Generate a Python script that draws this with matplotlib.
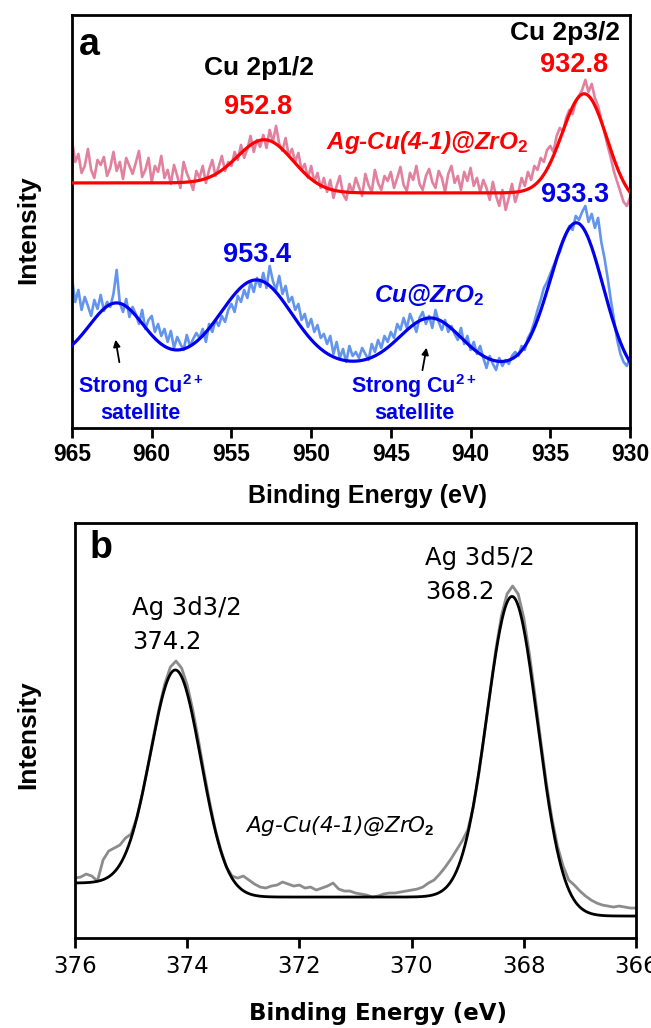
import math
import numpy as np
import matplotlib
matplotlib.use("Agg")
import matplotlib.pyplot as plt

# ---------------- Cu 2p spectra (panel a) ----------------
cu_energy = np.linspace(965.0, 930.0, 176)   # binding energy, 0.2 eV step

agcu_cu2p = [
    288, 266, 274, 255, 262, 279, 258, 250, 268, 263,   # 965.0 -> 963.2
    271, 252, 260, 276, 257, 266, 249, 270, 262, 254,   # 963.0 -> 961.2
    265, 277, 251, 258, 270, 246, 262, 256, 272, 250,   # 961.0 -> 959.2
    258, 244, 263, 252, 240, 266, 255, 247, 238, 257,   # 959.0 -> 957.2
    250, 262, 245, 258, 268, 252, 261, 272, 257, 266,   # 957.0 -> 955.2
    262, 276, 268, 283, 270, 279, 292, 276, 288, 281,   # 955.0 -> 953.2
    293, 280, 298, 286, 302, 284, 277, 290, 272, 279,   # 953.0 -> 951.2
    266, 275, 258, 264, 250, 262, 246, 255, 240, 250,   # 951.0 -> 949.2
    236, 248, 230, 242, 252, 234, 228, 244, 236, 250,   # 949.0 -> 947.2
    241, 232, 254, 243, 236, 258, 245, 238, 252, 247,   # 947.0 -> 945.2
    256, 240, 250, 261, 243, 237, 255, 248, 262, 244,   # 945.0 -> 943.2
    238, 252, 259, 246, 240, 257, 250, 236, 254, 262,   # 943.0 -> 941.2
    245, 252, 238, 256, 247, 260, 242, 250, 236, 248,   # 941.0 -> 939.2
    240, 228, 246, 232, 222, 238, 218, 230, 244, 226,   # 939.0 -> 937.2
    236, 250, 242, 256, 248, 262, 258, 270, 266, 278,   # 937.0 -> 935.2
    282, 276, 292, 300, 296, 310, 318, 314, 326, 332,   # 935.0 -> 933.2
    338, 348, 336, 344, 330, 322, 308, 296, 282, 270,   # 933.0 -> 931.2
    256, 246, 236, 226, 222, 230,                       # 931.0 -> 930.0
]

cu_cu2p = [
    150, 126, 138, 118, 131, 122, 112, 128, 119, 133,   # 965.0 -> 963.2
    117, 126, 121, 134, 158, 125, 116, 129, 111, 121,   # 963.0 -> 961.2
    114, 104, 118, 99, 108, 112, 96, 104, 92, 99,       # 961.0 -> 959.2
    86, 97, 80, 91, 84, 78, 93, 82, 89, 95,             # 959.0 -> 957.2
    90, 99, 86, 104, 96, 108, 102, 112, 106, 118,       # 957.0 -> 955.2
    124, 116, 132, 126, 138, 130, 146, 136, 150, 141,   # 955.0 -> 953.2
    155, 140, 162, 147, 138, 152, 134, 142, 126, 131,   # 953.0 -> 951.2
    118, 124, 108, 114, 101, 109, 96, 103, 90, 94,      # 951.0 -> 949.2
    84, 92, 74, 86, 70, 79, 66, 82, 72, 76,             # 949.0 -> 947.2
    70, 80, 74, 68, 84, 76, 88, 80, 92, 86,             # 947.0 -> 945.2
    96, 90, 104, 98, 110, 100, 114, 106, 96, 110,       # 945.0 -> 943.2
    116, 104, 112, 100, 118, 106, 98, 108, 96, 102,     # 943.0 -> 941.2
    94, 88, 100, 84, 92, 78, 86, 74, 82, 70,            # 941.0 -> 939.2
    60, 72, 64, 58, 70, 62, 68, 64, 72, 76,             # 939.0 -> 937.2
    72, 82, 78, 90, 96, 106, 118, 128, 140, 146,        # 937.0 -> 935.2
    154, 162, 170, 176, 186, 194, 202, 198, 212, 208,   # 935.0 -> 933.2
    216, 222, 206, 214, 200, 210, 186, 170, 150, 128,   # 933.0 -> 931.2
    108, 88, 74, 66, 62, 70,                            # 931.0 -> 930.0
]

# fitted components: centre (eV), height, sigma (eV), Shirley-type step
agcu_center = [952.8, 932.8]
agcu_height = [48, 106]
agcu_sigma = [1.75, 1.4]
agcu_step = [10, 14]
agcu_base = 221

cu_center = [962.2, 953.4, 942.5, 933.3]
cu_height = [57.5, 83, 48, 152]
cu_sigma = [1.7, 2.2, 1.9, 1.65]
cu_step = [1, 4, 2, 16]
cu_base = 45

# ---------------- Ag 3d spectrum (panel b) ----------------
ag_energy = np.linspace(376.0, 366.0, 101)   # 0.1 eV step

agcu_ag3d = [
    60, 61, 64, 62, 57, 78, 87, 90, 93, 100,            # 376.0 -> 375.1
    104, 120, 144, 172, 202, 230, 254, 271, 277, 270,   # 375.0 -> 374.1
    253, 228, 198, 166, 136, 109, 88, 71, 62, 60,       # 374.0 -> 373.1
    62, 58, 54, 51, 50, 52, 53, 56, 54, 52,             # 373.0 -> 372.1
    53, 50, 51, 48, 50, 52, 55, 49, 47, 47,             # 372.0 -> 371.1
    45, 44, 43, 41, 42, 44, 45, 45, 46, 47,             # 371.0 -> 370.1
    48, 49, 51, 55, 58, 64, 71, 79, 88, 97,             # 370.0 -> 369.1
    108, 131, 165, 205, 247, 288, 322, 344, 352, 344,   # 369.0 -> 368.1
    320, 284, 242, 198, 156, 120, 92, 72, 58, 53,       # 368.0 -> 367.1
    47, 42, 38, 35, 33, 32, 31, 32, 31, 30,             # 367.0 -> 366.1
    30,                                                 # 366.0
]

ag_center = [374.2, 368.2]
ag_height = [220, 310]
ag_sigma = [0.45, 0.45]
ag_step = [14, 19]
ag_base = 22

_erf = np.vectorize(math.erf)


def envelope(e, base, centers, heights, sigmas, steps):
    """Sum of Gaussian components on a step (Shirley-like) background."""
    e = np.asarray(e, dtype=float)
    y = np.full_like(e, float(base))
    for c, h, s, st in zip(centers, heights, sigmas, steps):
        z = (e - c) / s
        y += h * np.exp(-0.5 * z ** 2) + st * 0.5 * (1.0 + _erf(z / math.sqrt(2.0)))
    return y


plt.rcParams["font.family"] = ["Liberation Sans", "DejaVu Sans"]
plt.rcParams["mathtext.fontset"] = "custom"
plt.rcParams["mathtext.rm"] = "Liberation Sans:bold"
plt.rcParams["mathtext.it"] = "Liberation Sans:bold:italic"
plt.rcParams["mathtext.bf"] = "Liberation Sans:bold"

fig = plt.figure(figsize=(6.51, 10.28), dpi=100)
ax_a = fig.add_axes([0.1106, 0.5837, 0.8571, 0.4018])
ax_b = fig.add_axes([0.1152, 0.0875, 0.8618, 0.4037])

PINK = "#E2819F"
LIGHTBLUE = "#6495ED"
RED = "#FF0000"
BLUE = "#0000EE"

# ---- panel a ----
fine_a = np.linspace(965.0, 930.0, 701)
ax_a.plot(cu_energy, agcu_cu2p, color=PINK, lw=1.9, zorder=2)
ax_a.plot(cu_energy, cu_cu2p, color=LIGHTBLUE, lw=1.9, zorder=2)
ax_a.plot(fine_a, envelope(fine_a, agcu_base, agcu_center, agcu_height, agcu_sigma, agcu_step),
          color=RED, lw=2.3, zorder=3)
ax_a.plot(fine_a, envelope(fine_a, cu_base, cu_center, cu_height, cu_sigma, cu_step),
          color=BLUE, lw=2.3, zorder=3)

ax_a.set_xlim(965, 930)
ax_a.set_ylim(0, 413)
ax_a.set_xticks(np.arange(965, 929, -5))
ax_a.set_yticks([])
for lab in ax_a.get_xticklabels():
    lab.set_fontweight("bold")
ax_a.tick_params(axis="x", direction="out", length=7, width=2, labelsize=16.5, pad=4)
for sp in ax_a.spines.values():
    sp.set_linewidth(2)
ax_a.set_xlabel("Binding Energy (eV)", fontsize=18, fontweight="bold")
ax_a.xaxis.set_label_coords(0.53, -0.135)
ax_a.set_ylabel("Intensity", fontsize=19, fontweight="bold")
ax_a.yaxis.set_label_coords(-0.057, 0.48)

ax_a.text(964.6, 383, "a", fontsize=27, fontweight="bold", ha="left", va="center")
ax_a.text(953.3, 360, "Cu 2p1/2", fontsize=19, fontweight="bold", ha="center", va="center")
ax_a.text(953.3, 321, "952.8", fontsize=19.5, fontweight="bold", color=RED, ha="center", va="center")
ax_a.text(934.1, 395, "Cu 2p3/2", fontsize=19, fontweight="bold", ha="center", va="center")
ax_a.text(933.5, 363, "932.8", fontsize=19.5, fontweight="bold", color=RED, ha="center", va="center")
ax_a.text(942.7, 285, r"Ag-Cu(4-1)@ZrO$_{\mathit{2}}$", fontsize=17.5, fontweight="bold",
          style="italic", color=RED, ha="center", va="center")
ax_a.text(933.45, 233, "933.3", fontsize=19.5, fontweight="bold", color=BLUE, ha="center", va="center")
ax_a.text(953.4, 173, "953.4", fontsize=19.5, fontweight="bold", color=BLUE, ha="center", va="center")
ax_a.text(942.6, 133, r"Cu@ZrO$_{\mathit{2}}$", fontsize=17.5, fontweight="bold",
          style="italic", color=BLUE, ha="center", va="center")
for xe in (960.7, 943.55):
    ax_a.text(xe, 30, "Strong Cu$^{2+}$\nsatellite", fontsize=15.5, fontweight="bold",
              color=BLUE, ha="center", va="center", linespacing=1.2)
ax_a.annotate("", xy=(962.3, 91), xytext=(962.0, 63),
              arrowprops=dict(arrowstyle="-|>", color="black", lw=1.3, mutation_scale=10))
ax_a.annotate("", xy=(942.73, 83), xytext=(943.05, 55),
              arrowprops=dict(arrowstyle="-|>", color="black", lw=1.3, mutation_scale=10))

# ---- panel b ----
fine_b = np.linspace(376.0, 366.0, 801)
ax_b.plot(ag_energy, agcu_ag3d, color="#8C8C8C", lw=2.0, zorder=2)
ax_b.plot(fine_b, envelope(fine_b, ag_base, ag_center, ag_height, ag_sigma, ag_step),
          color="black", lw=2.0, zorder=3)
ax_b.set_xlim(376, 366)
ax_b.set_ylim(0, 415)
ax_b.set_xticks(np.arange(376, 365, -2))
ax_b.set_yticks([])
for lab in ax_b.get_xticklabels():
    lab.set_family(["DejaVu Sans"])
ax_b.tick_params(axis="x", direction="out", length=7, width=2, labelsize=16.5, pad=5)
for sp in ax_b.spines.values():
    sp.set_linewidth(2)
ax_b.set_xlabel("Binding Energy (eV)", fontsize=16.5, fontweight="bold", family=["DejaVu Sans"])
ax_b.xaxis.set_label_coords(0.54, -0.155)
ax_b.set_ylabel("Intensity", fontsize=19, fontweight="bold")
ax_b.yaxis.set_label_coords(-0.062, 0.49)

ax_b.text(375.75, 390, "b", fontsize=27, fontweight="bold", ha="left", va="center")
ax_b.text(374.98, 330, "Ag 3d3/2", fontsize=17.5, family=["DejaVu Sans"], ha="left", va="center")
ax_b.text(374.98, 296, "374.2", fontsize=17.5, family=["DejaVu Sans"], ha="left", va="center")
ax_b.text(369.76, 380, "Ag 3d5/2", fontsize=17.5, family=["DejaVu Sans"], ha="left", va="center")
ax_b.text(369.76, 346, "368.2", fontsize=17.5, family=["DejaVu Sans"], ha="left", va="center")
ax_b.text(372.97, 112, r"Ag-Cu(4-1)@ZrO$_{\mathit{2}}$", fontsize=15.5, style="italic",
          family=["DejaVu Sans"], ha="left", va="center")

fig.savefig("out.png", dpi=100)
